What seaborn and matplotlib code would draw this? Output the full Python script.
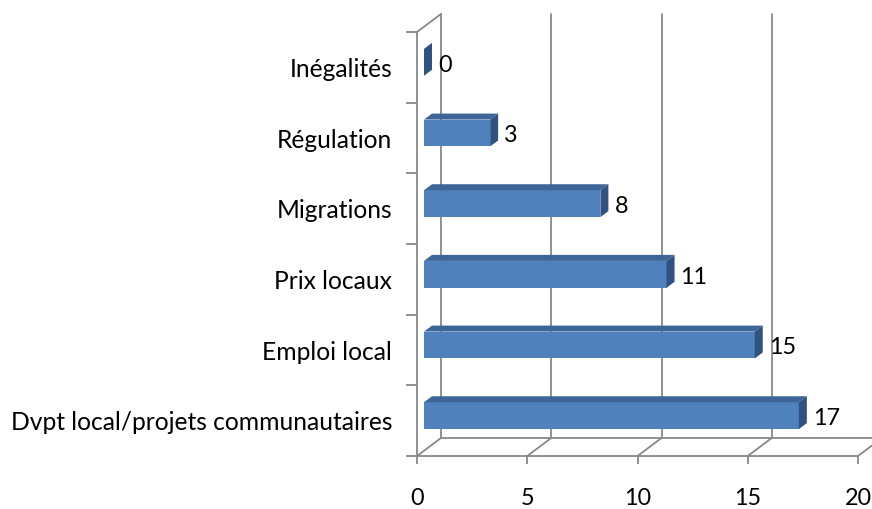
import matplotlib
matplotlib.use("Agg")
import matplotlib.pyplot as plt
import matplotlib.transforms as mtransforms
from matplotlib.patches import Polygon
import seaborn as sns
import pandas as pd

categories = ["Inégalités", "Régulation", "Migrations", "Prix locaux",
              "Emploi local", "Dvpt local/projets communautaires"]
values = [0, 3, 8, 11, 15, 17]
xticks = [0, 5, 10, 15, 20]

sns.set_theme(style="white")
plt.rcParams['font.family'] = ['Lato', 'DejaVu Sans']

DPI = 100
FS = 17.7
FSN = 16.8
fig = plt.figure(figsize=(8.72, 5.09), dpi=DPI)
ax = fig.add_axes([417/872, 1-456/509, (858-417)/872, (456-32)/509])

df = pd.DataFrame({"cat": categories, "val": values})
FRONT = "#4F81BD"
TOP = "#3E6597"
SIDE = "#2F5280"
sns.barplot(data=df, x="val", y="cat", orient="h", color=FRONT, width=0.38,
            saturation=1, ax=ax, zorder=3)

ax.set_xlim(0, 20)
ax.set_ylim(len(categories) - 0.5, -0.5)

# depth offsets in pixels (right, up)
WALL_DX, WALL_DY = 24, 18
BAR_DX, BAR_DY = 7, 5
BD_X, BD_Y = 8, 6

def off(dx, dy):
    return ax.transData + mtransforms.ScaledTranslation(dx / DPI, dy / DPI, fig.dpi_scale_trans)

GRID = "#888888"
lw = 1.3
back = off(WALL_DX, WALL_DY)
y0, y1 = len(categories) - 0.5, -0.5
# back wall gridlines
for xv in xticks:
    ax.plot([xv, xv], [y0, y1], color=GRID, lw=lw, transform=back, clip_on=False, zorder=1)
# back floor line
ax.plot([0, 20], [y0, y0], color=GRID, lw=lw, transform=back, clip_on=False, zorder=1)
# floor depth lines
for xv in xticks:
    p0 = ax.transData.transform((xv, y0))
    p1 = back.transform((xv, y0))
    ax.plot([p0[0], p1[0]], [p0[1], p1[1]], color=GRID, lw=lw,
            transform=None, clip_on=False, zorder=1)
# side wall top edge
p0 = ax.transData.transform((0, y1))
p1 = back.transform((0, y1))
ax.plot([p0[0], p1[0]], [p0[1], p1[1]], color=GRID, lw=lw, transform=None,
        clip_on=False, zorder=1)

# 3D bar faces
for patch, v in zip(ax.patches, values):
    tr = off(BAR_DX, BAR_DY)
    patch.set_transform(tr)
    patch.set_edgecolor("none")
    x = patch.get_x(); w = patch.get_width()
    yt = patch.get_y(); h = patch.get_height()
    a = tr.transform((x, yt)); b = tr.transform((x + w, yt))
    c = tr.transform((x, yt + h))
    top_y = max(a[1], c[1])
    bot_y = min(a[1], c[1])
    L, R = a[0], b[0]
    top_face = Polygon([(L, top_y), (R, top_y), (R + BD_X, top_y + BD_Y), (L + BD_X, top_y + BD_Y)],
                       closed=True, facecolor=TOP, edgecolor="none", transform=None, zorder=3)
    side_face = Polygon([(R, bot_y), (R, top_y), (R + BD_X, top_y + BD_Y), (R + BD_X, bot_y + BD_Y)],
                        closed=True, facecolor=SIDE, edgecolor="none", transform=None, zorder=3)
    fig.add_artist(top_face)
    fig.add_artist(side_face)
    ax.annotate(str(v), xy=(v, yt + h / 2), xycoords=tr,
                xytext=((BD_X + 6) * 72 / DPI, -3 * 72 / DPI), textcoords="offset points",
                ha="left", va="center", fontsize=FSN, color="#000000", zorder=4)

# spines
for s in ["top", "right"]:
    ax.spines[s].set_visible(False)
for s in ["left", "bottom"]:
    ax.spines[s].set_color(GRID)
    ax.spines[s].set_linewidth(lw)

ax.set_xticks(xticks)
ax.set_xticklabels([str(t) for t in xticks])
ax.tick_params(axis="x", which="major", direction="out", length=6, width=lw,
               color=GRID, pad=17, labelsize=FSN, labelcolor="#000000", bottom=True)
ax.set_yticks(range(len(categories)))
ax.set_yticklabels(categories)
ax.tick_params(axis="y", which="major", length=0, pad=18, labelsize=FS, labelcolor="#000000")
ax.set_yticks([i - 0.5 for i in range(len(categories) + 1)], minor=True)
ax.tick_params(axis="y", which="minor", direction="out", length=8, width=lw, color=GRID, left=True)
ax.set_xlabel("")
ax.set_ylabel("")
ax.grid(False)
ax.patch.set_alpha(0)

fig.savefig("out.png", dpi=DPI)
